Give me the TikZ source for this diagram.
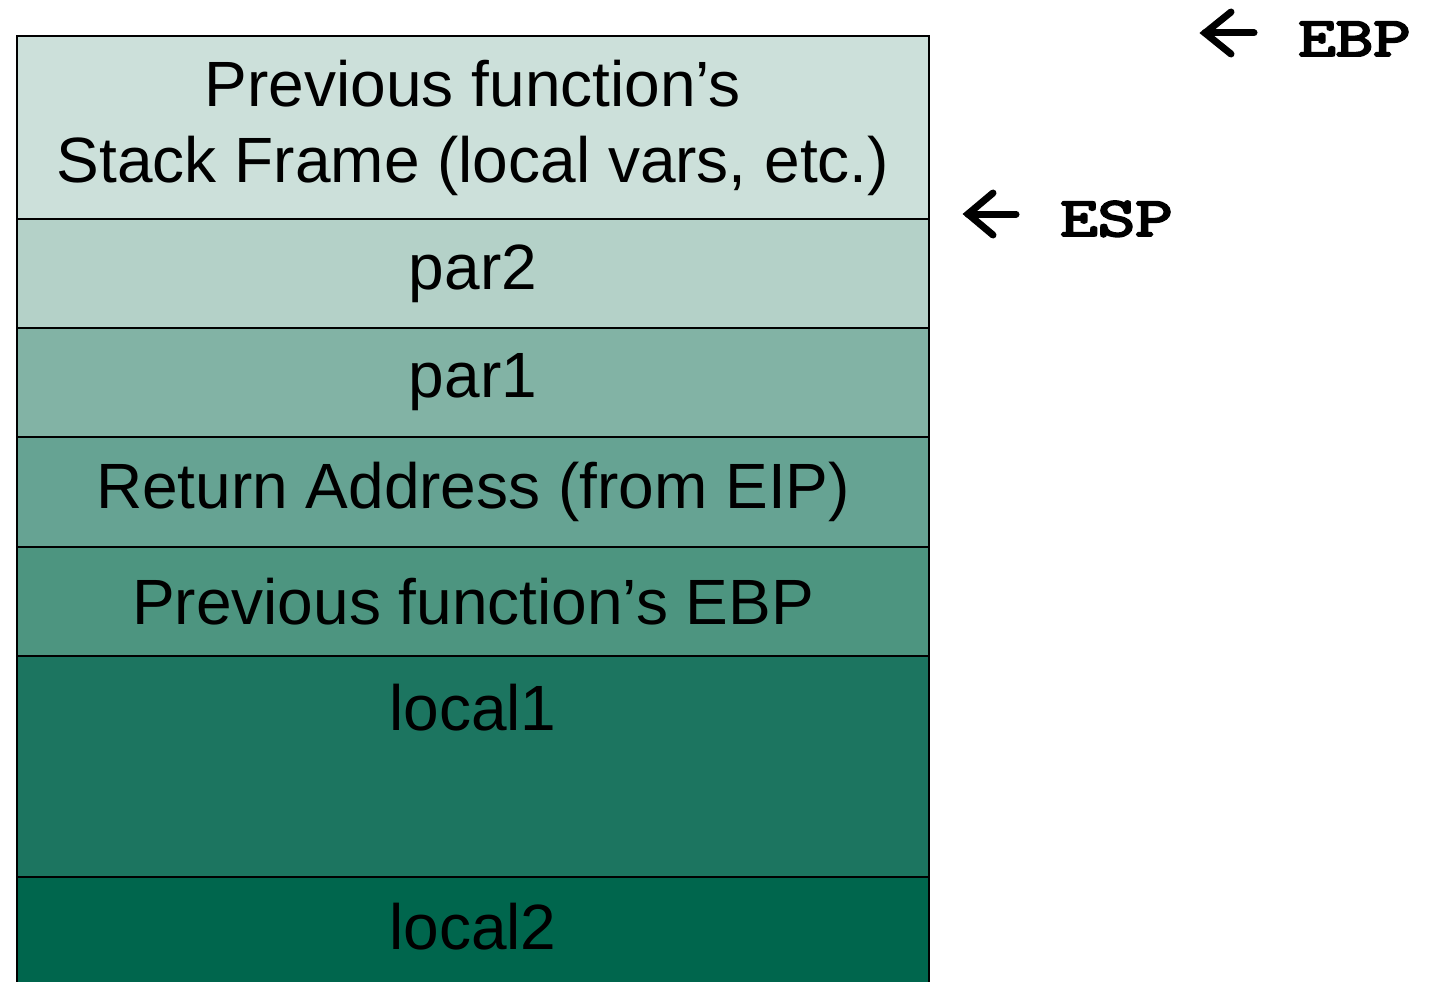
\documentclass[tikz,border=0pt]{standalone}
\usepackage{fontspec}
\setmainfont{Liberation Sans}
\newfontfamily\regfont{Latin Modern Mono}[FakeBold=3.5]
\definecolor{cA}{HTML}{CCE0DA}
\definecolor{cB}{HTML}{B4D1C8}
\definecolor{cC}{HTML}{82B3A5}
\definecolor{cD}{HTML}{66A393}
\definecolor{cE}{HTML}{4D9580}
\definecolor{cF}{HTML}{1C7560}
\definecolor{cG}{HTML}{00664D}
\tikzset{
  slot/.style={draw=black, line width=2pt, minimum width=912pt, inner sep=0pt, outer sep=0pt,
    font=\fontsize{64}{76}\selectfont, align=center},
  reglbl/.style={font=\regfont\fontsize{56}{56}\selectfont, inner sep=0pt, anchor=base west, xscale=1.3, transform shape},
  ptr/.style={line width=7pt, line cap=round, line join=miter},
}
\begin{document}
\begin{tikzpicture}[x=1pt,y=-1pt]
\useasboundingbox (0,0) rectangle (1440,982);
\clip (0,0) rectangle (1440,982);
\node[slot, fill=cA, minimum height=183pt] (prev) at (473,127.5) {Previous function’s\\Stack Frame (local vars, etc.)};
\node[slot, fill=cB, minimum height=109pt] (par2) at (473,273.5) {par2};
\node[slot, fill=cC, minimum height=109pt] (par1) at (473,382.5) {par1};
\node[slot, fill=cD, minimum height=110pt] (ret) at (473,492) {Return Address (from EIP)};
\node[slot, fill=cE, minimum height=109pt] (oebp) at (473,601.5) {Previous function’s EBP};
\node[slot, fill=cF, minimum height=221pt] (loc1) at (473,766.5) {};
\node[font=\fontsize{64}{76}\selectfont, inner sep=0pt] (loc1t) at (473,708) {local1};
\node[slot, fill=cG, minimum height=140pt] (loc2) at (473,947) {};
\node[font=\fontsize{64}{76}\selectfont, inner sep=0pt] (loc2t) at (473,927) {local2};
% EBP pointer
\coordinate (ebpTip) at (1205,33);
\node[reglbl] (ebp) at (1298,56) {EBP};
\draw[ptr] (1231,12) -- (ebpTip) -- (1231,54);
\draw[ptr] (ebpTip) -- (1254,33);
% ESP pointer
\coordinate (espTip) at (968,214);
\node[reglbl] (esp) at (1060,236) {ESP};
\draw[ptr] (993,193) -- (espTip) -- (993,235);
\draw[ptr] (espTip) -- (1016,214);
\end{tikzpicture}
\end{document}
